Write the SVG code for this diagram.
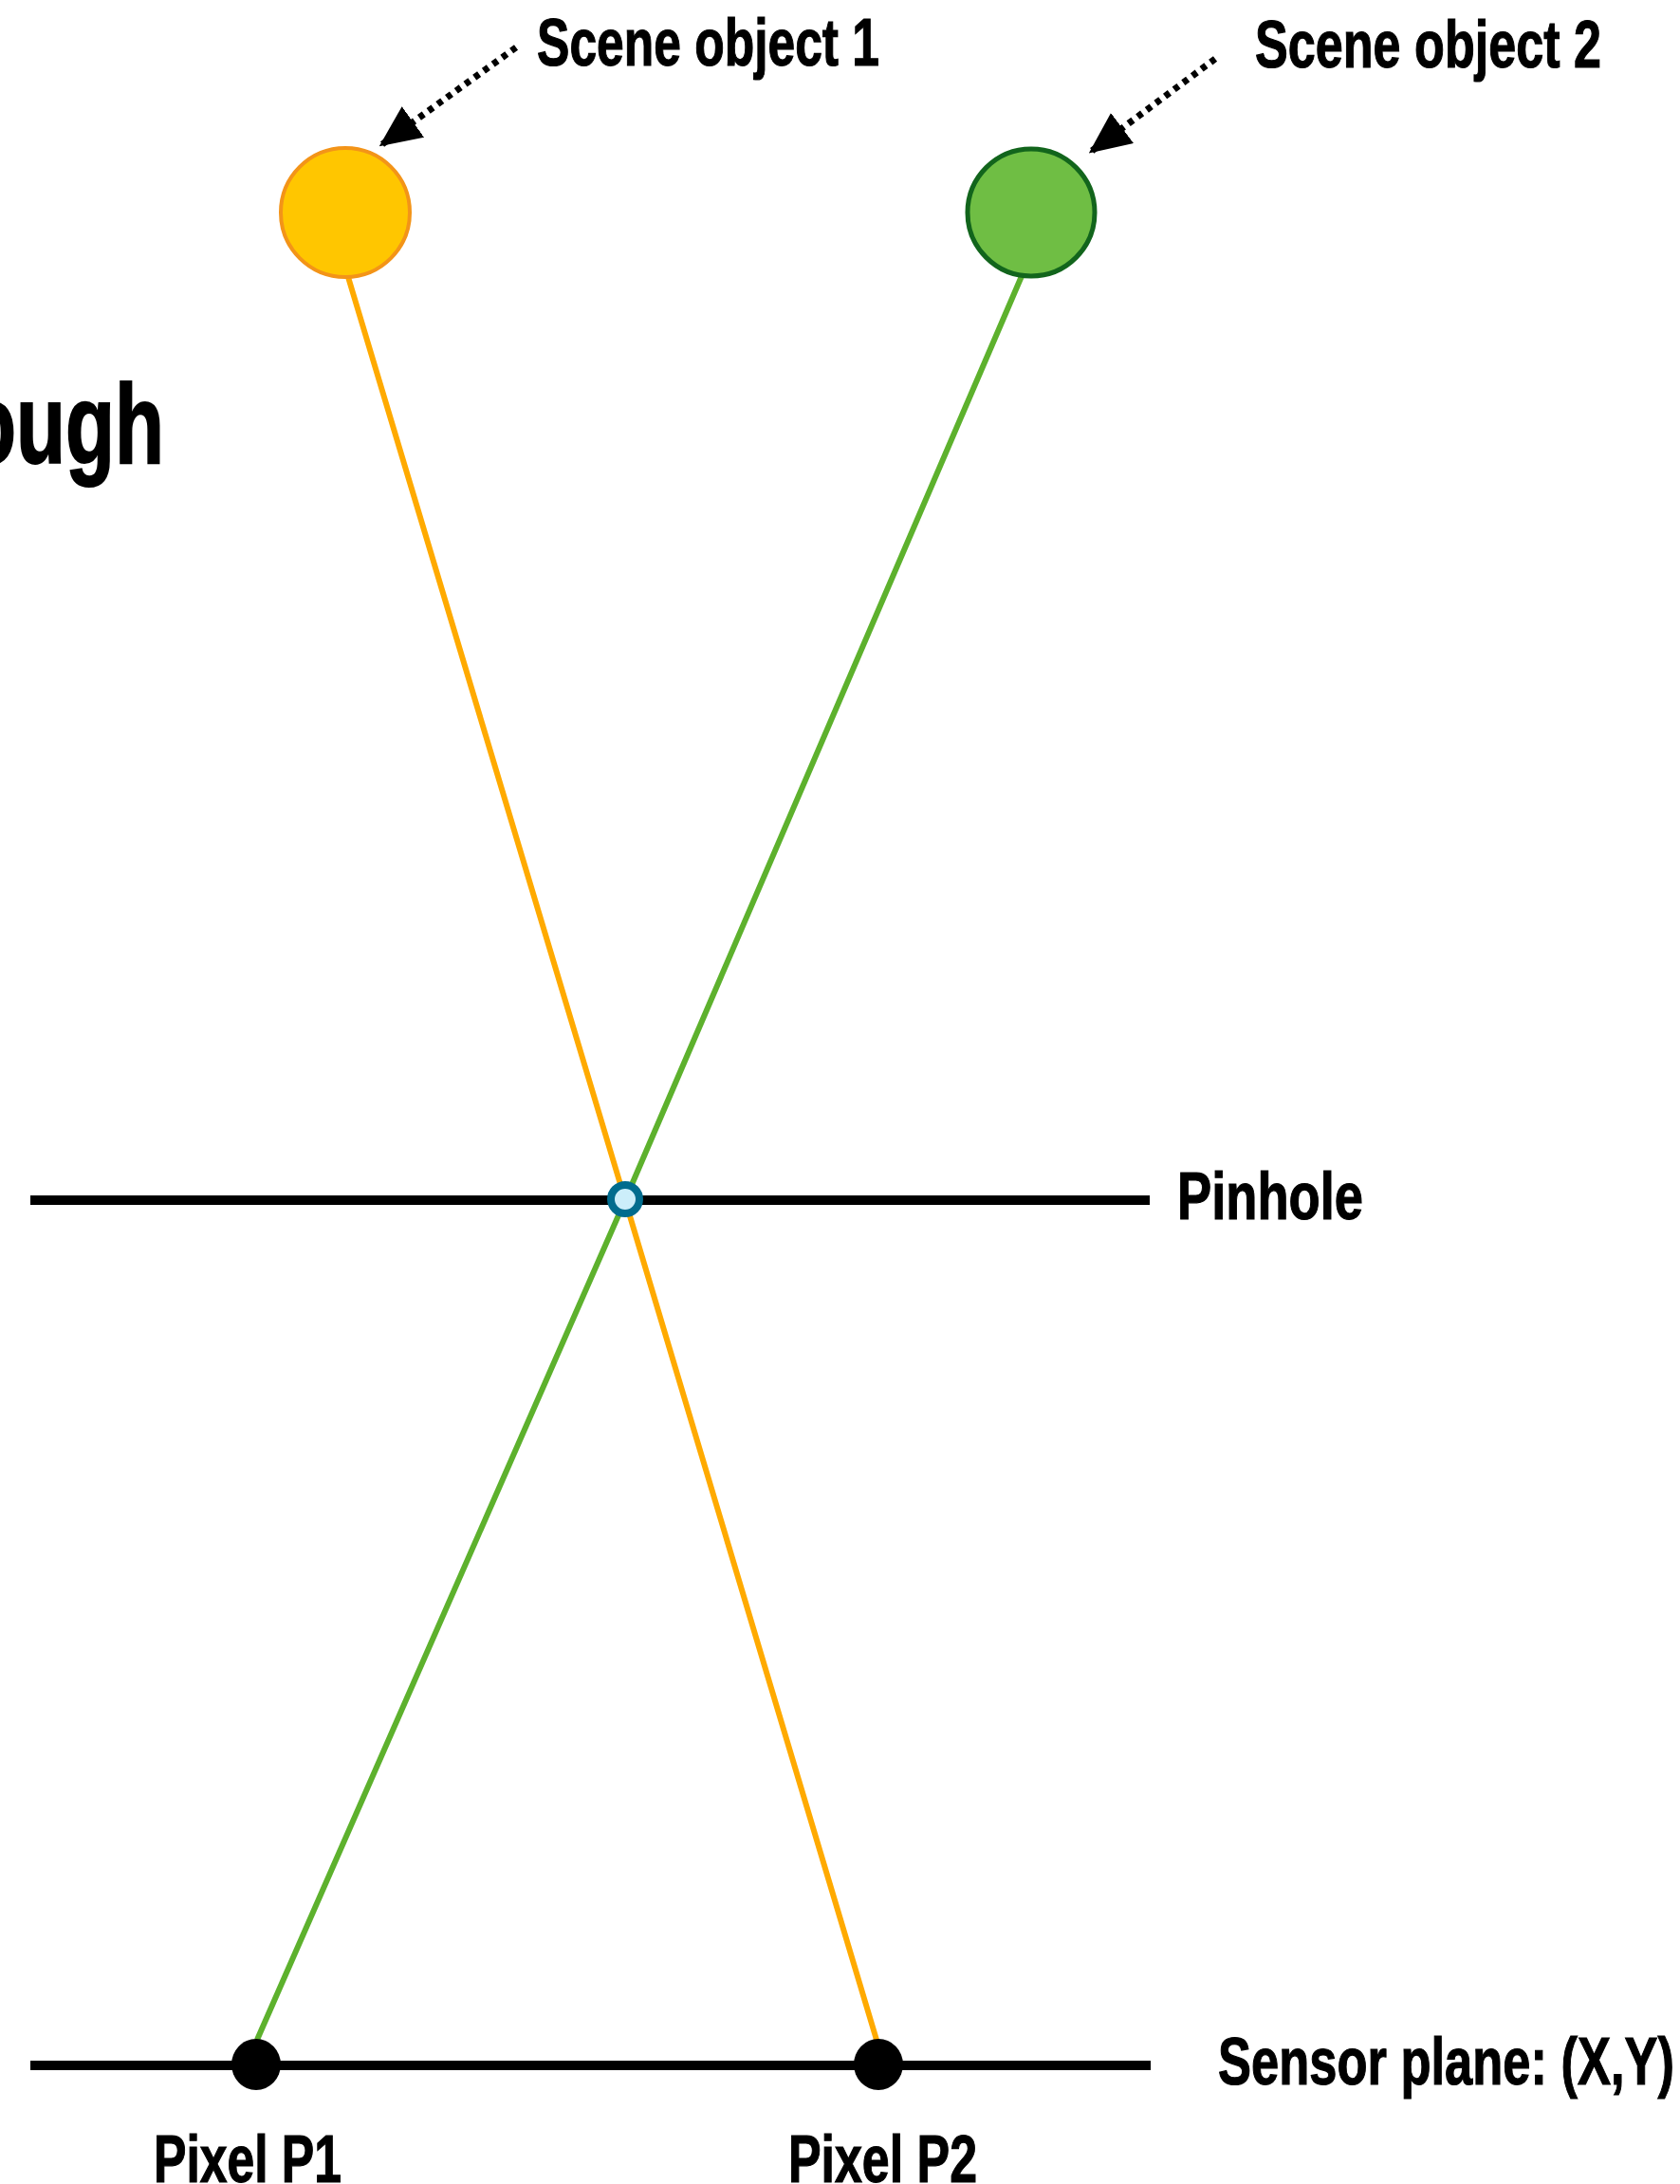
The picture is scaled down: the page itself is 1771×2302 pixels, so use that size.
<svg xmlns="http://www.w3.org/2000/svg" width="1771" height="2302" viewBox="0 0 1771 2302">
<style>
.lbl{font-family:"Liberation Sans",Arial,sans-serif;font-weight:bold;fill:#000;stroke:#000;stroke-width:1.2}
.plane{stroke:#000;stroke-width:10;fill:none}
.ray{fill:none;stroke-width:6;stroke-linejoin:round}
.ptr{fill:none;stroke:#000;stroke-width:7;stroke-dasharray:6 6}
</style>
<defs>
<marker id="ah" markerUnits="userSpaceOnUse" markerWidth="44" markerHeight="40" refX="40" refY="20" orient="auto">
<path d="M0,0 L44,20 L0,40 Z" fill="#000"/>
</marker>
</defs>
<rect width="1771" height="2302" fill="#fff"/>
<text class="lbl" x="-35" y="488" font-size="118" textLength="208" lengthAdjust="spacingAndGlyphs" style="stroke-width:2">ough</text>
<g id="pinhole-plane">
<line class="plane" x1="32" y1="1265" x2="1212" y2="1265"/>
<text class="lbl" x="1241" y="1285" font-size="70" textLength="196" lengthAdjust="spacingAndGlyphs">Pinhole</text>
</g>
<g id="sensor-plane">
<line class="plane" x1="32" y1="2177" x2="1213" y2="2177"/>
<text class="lbl" x="1284" y="2197" font-size="70" textLength="481" lengthAdjust="spacingAndGlyphs">Sensor plane: (X,Y)</text>
</g>
<g id="connectors">
<polyline class="ray" stroke="#FFAA00" points="367,292 659,1265 924,2150"/>
<polyline class="ray" stroke="#5DB12D" points="1077,291 659,1265 271,2150"/>
<line class="ptr" x1="544" y1="50" x2="403" y2="152" marker-end="url(#ah)"/>
<line class="ptr" x1="1281" y1="62" x2="1151" y2="159" marker-end="url(#ah)"/>
</g>
<g id="scene-object-1">
<circle cx="364" cy="224" r="68" fill="#FFC600" stroke="#F39418" stroke-width="4"/>
<text class="lbl" x="566" y="69" font-size="70" textLength="361" lengthAdjust="spacingAndGlyphs">Scene object 1</text>
</g>
<g id="scene-object-2">
<circle cx="1087" cy="224" r="67" fill="#6FBE44" stroke="#12651C" stroke-width="5"/>
<text class="lbl" x="1323" y="71" font-size="70" textLength="365" lengthAdjust="spacingAndGlyphs">Scene object 2</text>
</g>
<g id="pinhole">
<circle cx="659" cy="1264" r="15" fill="#CCEEFA" stroke="#006C8E" stroke-width="8"/>
</g>
<g id="pixel-p1">
<ellipse cx="270" cy="2176" rx="26" ry="27" fill="#000"/>
<text class="lbl" x="162" y="2300" font-size="70" textLength="198" lengthAdjust="spacingAndGlyphs">Pixel P1</text>
</g>
<g id="pixel-p2">
<ellipse cx="926" cy="2176" rx="26" ry="27" fill="#000"/>
<text class="lbl" x="831" y="2300" font-size="70" textLength="199" lengthAdjust="spacingAndGlyphs">Pixel P2</text>
</g>
</svg>
